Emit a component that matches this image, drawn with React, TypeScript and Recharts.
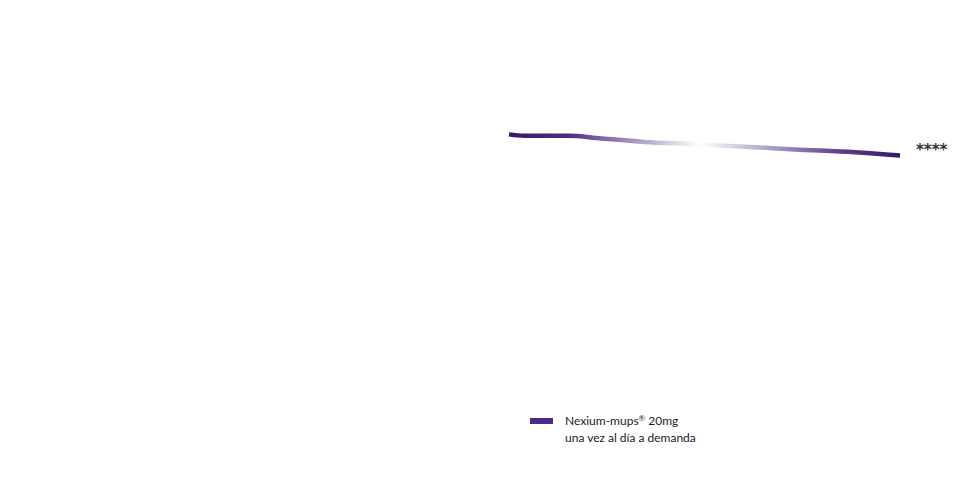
import { LineChart, Line, XAxis, YAxis, Legend } from 'recharts'

// semana desde el inicio
const weeks = [0, 1, 4, 6, 9, 12, 16, 19, 23, 26]
// % de pacientes (estimado a partir de la imagen)
const nexiumValues = [74.2, 73.8, 73.8, 73.1, 72.1, 71.5, 70.7, 70.0, 69.2, 68.3]
const seriesName = 'Nexium-mups'
const seriesDose = ' 20mg'
const seriesSubtitle = 'una vez al día a demanda'
const significance = '****'

const data = weeks.map((w, i) => ({ week: w, nexium: nexiumValues[i] }))

const EndLabel = (props: any) => {
  const { x, y, index } = props
  if (index !== data.length - 1) return null
  return (
    <text
      x={x + 16}
      y={y}
      fill="#333"
      fontSize={15}
      fontWeight={700}
      fontFamily="'DejaVu Sans', sans-serif"
    >
      {significance}
    </text>
  )
}

const LegendContent = () => (
  <div style={{ display: 'flex', alignItems: 'flex-start', fontFamily: 'Lato, sans-serif' }}>
    <div
      style={{
        width: 23,
        height: 6,
        background: '#4b2a88',
        marginTop: 5,
        marginRight: 12,
      }}
    />
    <div style={{ fontSize: 12, lineHeight: '16px', color: '#1a1a1a' }}>
      <div>
        {seriesName}
        <span style={{ fontSize: 8, position: 'relative', top: -4 }}>®</span>
        {seriesDose}
      </div>
      <div>{seriesSubtitle}</div>
    </div>
  </div>
)

export default function App() {
  return (
    <div style={{ position: 'absolute', left: 0, top: 0, width: 976, height: 479, background: '#fff' }}>
      <LineChart
        width={976}
        height={479}
        data={data}
        margin={{ top: 42, right: 76, bottom: 46, left: 509 }}
      >
        <defs>
          <linearGradient id="nexiumFade" x1="0" y1="0" x2="1" y2="0">
            <stop offset="0%" stopColor="#3a166d" />
            <stop offset="15%" stopColor="#4d2e80" />
            <stop offset="49%" stopColor="#ffffff" />
            <stop offset="85%" stopColor="#5a3d8d" />
            <stop offset="100%" stopColor="#3a166d" />
          </linearGradient>
        </defs>
        <XAxis type="number" dataKey="week" domain={[0, 26]} hide />
        <YAxis type="number" domain={[0, 100]} hide />
        <Legend
          verticalAlign="bottom"
          content={<LegendContent />}
          wrapperStyle={{ position: 'absolute', left: 530, top: 413, width: 220 }}
        />
        <Line
          type="monotone"
          dataKey="nexium"
          name={seriesName}
          stroke="url(#nexiumFade)"
          strokeWidth={4.5}
          dot={false}
          activeDot={false}
          label={<EndLabel />}
          isAnimationActive={false}
        />
      </LineChart>
    </div>
  )
}
